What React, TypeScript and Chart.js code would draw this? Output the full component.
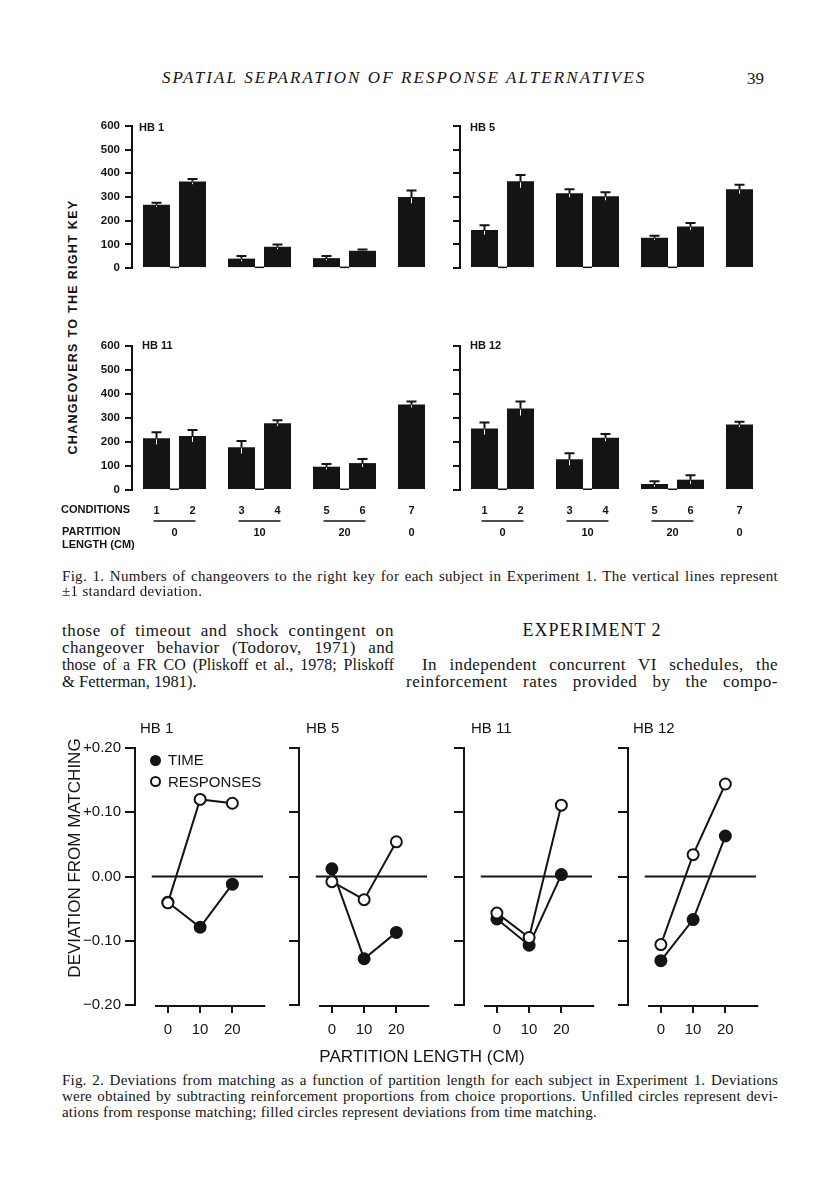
import React, { useEffect, useRef } from "react";
import { Chart, registerables } from "chart.js";

Chart.register(...registerables);

const SANS = '"Liberation Sans", Arial, Helvetica, sans-serif';
const SERIF = '"Liberation Serif", "Times New Roman", serif';
const INK = "#141414";

Chart.defaults.font.family = SANS;
Chart.defaults.color = INK;

// ---------- Fig. 1 data ----------
const conditions = ["1", "2", "3", "4", "5", "6", "7"];
const partitionLengths = ["0", "10", "20", "0"];
const barTicks = [0, 100, 200, 300, 400, 500, 600];

const hb1Means = [267, 365, 40, 90, 42, 73, 300];
const hb1Sd = [9, 11, 11, 10, 9, 5, 27];
const hb5Means = [161, 366, 316, 303, 128, 176, 333];
const hb5Sd = [20, 27, 17, 17, 9, 14, 19];
const hb11Means = [215, 225, 178, 278, 97, 112, 356];
const hb11Sd = [25, 25, 26, 12, 11, 17, 12];
const hb12Means = [256, 339, 128, 218, 25, 43, 273];
const hb12Sd = [25, 29, 25, 15, 11, 18, 11];

// ---------- Fig. 2 data ----------
const partitionCm = [0, 10, 20];
const deviationTicks = [0.2, 0.1, 0, -0.1, -0.2];

const hb1Time = [-0.04, -0.079, -0.012];
const hb1Resp = [-0.041, 0.12, 0.114];
const hb5Time = [0.012, -0.128, -0.087];
const hb5Resp = [-0.008, -0.036, 0.054];
const hb11Time = [-0.066, -0.107, 0.003];
const hb11Resp = [-0.057, -0.095, 0.111];
const hb12Time = [-0.131, -0.067, 0.063];
const hb12Resp = [-0.106, 0.034, 0.144];

// ---------- plugins ----------
const errorBarPlugin = {
  id: "errorBars",
  afterDatasetsDraw(chart: any) {
    const { ctx } = chart;
    const y = chart.scales.y;
    chart.data.datasets.forEach((ds: any, di: number) => {
      const meta = chart.getDatasetMeta(di);
      meta.data.forEach((bar: any, i: number) => {
        const v = ds.data[i];
        if (v == null) return;
        const s = ds.sd[i];
        const yTop = y.getPixelForValue(v);
        const yHi = y.getPixelForValue(v + s);
        const yLo = y.getPixelForValue(v - s);
        ctx.save();
        ctx.strokeStyle = INK;
        ctx.lineWidth = 2;
        ctx.beginPath();
        ctx.moveTo(bar.x, yTop);
        ctx.lineTo(bar.x, yHi);
        ctx.moveTo(bar.x - 5, yHi);
        ctx.lineTo(bar.x + 5, yHi);
        ctx.stroke();
        ctx.strokeStyle = "#ffffff";
        ctx.lineWidth = 1;
        ctx.beginPath();
        ctx.moveTo(bar.x, yTop + 1);
        ctx.lineTo(bar.x, yLo);
        ctx.stroke();
        ctx.restore();
      });
    });
  },
};

const pairPlugin = {
  id: "pairs",
  afterDatasetsDraw(chart: any, _args: any, opts: any) {
    const { ctx } = chart;
    const y0 = chart.scales.y.getPixelForValue(0);
    const a = chart.getDatasetMeta(0).data;
    const b = chart.getDatasetMeta(1).data;
    const second = chart.data.datasets[1].data;
    ctx.save();
    ctx.strokeStyle = INK;
    ctx.lineWidth = 1.5;
    for (let i = 0; i < a.length; i++) {
      if (second[i] == null) continue;
      ctx.beginPath();
      ctx.moveTo(a[i].x + a[i].width / 2, y0 - 0.75);
      ctx.lineTo(b[i].x - b[i].width / 2, y0 - 0.75);
      ctx.stroke();
    }
    if (opts && opts.show) {
      ctx.font = `bold 11px ${SANS}`;
      ctx.fillStyle = INK;
      ctx.textAlign = "center";
      ctx.textBaseline = "middle";
      const condY = y0 + 21;
      const lineY = y0 + 31;
      const partY = y0 + 43;
      let c = 0;
      for (let i = 0; i < a.length; i++) {
        ctx.fillText(conditions[c++], a[i].x, condY);
        if (second[i] != null) {
          ctx.fillText(conditions[c++], b[i].x, condY);
          ctx.lineWidth = 1.5;
          ctx.beginPath();
          ctx.moveTo(a[i].x - 3, lineY);
          ctx.lineTo(b[i].x + 3, lineY);
          ctx.stroke();
          ctx.fillText(partitionLengths[i], (a[i].x + b[i].x) / 2, partY);
        } else {
          ctx.fillText(partitionLengths[i], a[i].x, partY);
        }
      }
    }
    ctx.restore();
  },
};

const zeroLinePlugin = {
  id: "zeroLine",
  beforeDatasetsDraw(chart: any) {
    const { ctx } = chart;
    const { x, y } = chart.scales;
    ctx.save();
    ctx.strokeStyle = INK;
    ctx.lineWidth = 2;
    ctx.beginPath();
    ctx.moveTo(x.getPixelForValue(-5), y.getPixelForValue(0));
    ctx.lineTo(x.getPixelForValue(29.5), y.getPixelForValue(0));
    ctx.stroke();
    ctx.restore();
  },
  afterDraw(chart: any) {
    const { ctx } = chart;
    const { x } = chart.scales;
    const yb = chart.chartArea.bottom + 1;
    ctx.save();
    ctx.strokeStyle = INK;
    ctx.lineWidth = 2;
    ctx.beginPath();
    ctx.moveTo(x.getPixelForValue(-4), yb);
    ctx.lineTo(x.getPixelForValue(30.2), yb);
    ctx.stroke();
    ctx.restore();
  },
};

// ---------- components ----------
function BarPanel(props: {
  means: number[];
  sds: number[];
  showLabels: boolean;
  showConditions: boolean;
  axisX: number;
  topY: number;
}) {
  const ref = useRef<HTMLCanvasElement>(null);
  const bottomPad = props.showConditions ? 62 : 10;
  const width = 40 + 340;
  const height = 10 + 146 + bottomPad;
  useEffect(() => {
    const m = props.means;
    const s = props.sds;
    const firsts = [m[0], m[2], m[4], m[6]];
    const seconds = [m[1], m[3], m[5], null];
    const firstSd = [s[0], s[2], s[4], s[6]];
    const secondSd = [s[1], s[3], s[5], 0];
    const common = {
      backgroundColor: INK,
      borderWidth: 0,
      categoryPercentage: 0.847,
      barPercentage: 0.75,
    };
    const chart = new Chart(ref.current as HTMLCanvasElement, {
      type: "bar",
      data: {
        labels: ["1-2", "3-4", "5-6", "7"],
        datasets: [
          { ...common, data: firsts, sd: firstSd } as any,
          { ...common, data: seconds, sd: secondSd } as any,
        ],
      },
      options: {
        animation: false,
        responsive: false,
        maintainAspectRatio: false,
        layout: { padding: { top: 10, bottom: bottomPad, left: 0, right: 0 } },
        plugins: {
          legend: { display: false },
          tooltip: { enabled: false },
          pairs: { show: props.showConditions },
        } as any,
        scales: {
          x: { display: false },
          y: {
            min: 0,
            max: 600,
            afterBuildTicks: (sc: any) => {
              sc.ticks = barTicks.map((v) => ({ value: v }));
            },
            afterFit: (sc: any) => {
              sc.width = 40;
            },
            ticks: {
              padding: 5,
              color: INK,
              font: { family: SANS, size: 11.5, weight: "bold" },
              callback: (v: any) => (props.showLabels ? String(v) : ""),
            },
            grid: {
              drawOnChartArea: false,
              drawTicks: true,
              tickLength: 7,
              lineWidth: 2,
              color: INK,
            },
            border: { display: true, width: 2, color: INK },
          },
        },
      },
      plugins: [errorBarPlugin, pairPlugin],
    });
    return () => chart.destroy();
  }, []);
  return (
    <canvas
      ref={ref}
      width={width}
      height={height}
      style={{ position: "absolute", left: props.axisX - 40, top: props.topY - 10, width, height }}
    />
  );
}

function fmtDev(v: number) {
  if (Math.abs(v) < 1e-9) return "0.00";
  return (v > 0 ? "+" : "\u2212") + Math.abs(v).toFixed(2);
}

function LinePanel(props: { time: number[]; resp: number[]; showLabels: boolean; axisX: number }) {
  const ref = useRef<HTMLCanvasElement>(null);
  const width = 55 + 137 + 3;
  const height = 10 + 260 + 40 + 5;
  useEffect(() => {
    const pts = (arr: number[]) => partitionCm.map((x, i) => ({ x, y: arr[i] }));
    const chart = new Chart(ref.current as HTMLCanvasElement, {
      type: "line",
      data: {
        datasets: [
          {
            label: "RESPONSES",
            data: pts(props.resp),
            borderColor: INK,
            borderWidth: 2,
            pointRadius: 5.5,
            pointBorderWidth: 2,
            pointBackgroundColor: "#ffffff",
            pointBorderColor: INK,
            tension: 0,
          },
          {
            label: "TIME",
            data: pts(props.time),
            borderColor: INK,
            borderWidth: 2,
            pointRadius: 5.5,
            pointBorderWidth: 2,
            pointBackgroundColor: INK,
            pointBorderColor: INK,
            tension: 0,
          },
        ],
      },
      options: {
        animation: false,
        responsive: false,
        maintainAspectRatio: false,
        layout: { padding: { top: 10, bottom: 5, left: 0, right: 3 } },
        plugins: { legend: { display: false }, tooltip: { enabled: false } },
        scales: {
          x: {
            type: "linear",
            min: -10.2,
            max: 30.9,
            afterBuildTicks: (sc: any) => {
              sc.ticks = partitionCm.map((v) => ({ value: v }));
            },
            afterFit: (sc: any) => {
              sc.height = 40;
            },
            ticks: {
              padding: 8,
              color: INK,
              font: { family: SANS, size: 15 },
              callback: (v: any) => String(v),
            },
            grid: { drawOnChartArea: false, drawTicks: true, tickLength: 8, lineWidth: 2, color: INK },
            border: { display: false },
          },
          y: {
            min: -0.2,
            max: 0.2,
            afterBuildTicks: (sc: any) => {
              sc.ticks = deviationTicks.map((v) => ({ value: v }));
            },
            afterFit: (sc: any) => {
              sc.width = 55;
            },
            ticks: {
              padding: 4,
              color: INK,
              font: { family: SANS, size: 15 },
              callback: (v: any) => (props.showLabels ? fmtDev(Number(v)) : ""),
            },
            grid: { drawOnChartArea: false, drawTicks: true, tickLength: 10, lineWidth: 2, color: INK },
            border: { display: true, width: 2, color: INK },
          },
        },
      },
      plugins: [zeroLinePlugin],
    });
    return () => chart.destroy();
  }, []);
  return (
    <canvas
      ref={ref}
      width={width}
      height={height}
      style={{ position: "absolute", left: props.axisX - 55, top: 735, width, height }}
    />
  );
}

function Txt(props: {
  x: number;
  y: number;
  size: number;
  children: React.ReactNode;
  family?: string;
  weight?: any;
  italic?: boolean;
  width?: number;
  align?: "left" | "center" | "right" | "justify";
  ls?: number;
}) {
  const lh = props.size * 1.2;
  const justify = props.align === "justify";
  return (
    <div
      style={{
        position: "absolute",
        left: props.x,
        top: props.y - lh / 2,
        width: props.width,
        fontSize: props.size,
        lineHeight: `${lh}px`,
        fontFamily: props.family || SANS,
        fontWeight: props.weight || "normal",
        fontStyle: props.italic ? "italic" : "normal",
        letterSpacing: props.ls ? `${props.ls}px` : undefined,
        textAlign: justify ? "justify" : props.align || "left",
        textAlignLast: justify ? "justify" : undefined,
        whiteSpace: "nowrap",
        color: INK,
      } as any}
    >
      {props.children}
    </div>
  );
}

function Circle(props: { cx: number; cy: number; filled: boolean }) {
  return (
    <div
      style={{
        position: "absolute",
        left: props.cx - 5.5,
        top: props.cy - 5.5,
        width: 11,
        height: 11,
        boxSizing: "border-box",
        borderRadius: "50%",
        border: `2px solid ${INK}`,
        background: props.filled ? INK : "#fff",
      }}
    />
  );
}

export default function App() {
  const lineAxes = [135, 299, 463.5, 628];
  return (
    <div style={{ position: "absolute", left: 0, top: 0, width: 816, height: 1200, background: "#fff", overflow: "hidden" }}>
      {/* running head */}
      <Txt x={162} y={78} size={17} family={SERIF} italic ls={2.1}>
        SPATIAL SEPARATION OF RESPONSE ALTERNATIVES
      </Txt>
      <Txt x={747} y={79} size={17} family={SERIF}>
        39
      </Txt>

      {/* Fig. 1 */}
      <BarPanel means={hb1Means} sds={hb1Sd} showLabels showConditions={false} axisX={132} topY={124} />
      <BarPanel means={hb5Means} sds={hb5Sd} showLabels={false} showConditions={false} axisX={460} topY={124} />
      <BarPanel means={hb11Means} sds={hb11Sd} showLabels showConditions axisX={132} topY={344} />
      <BarPanel means={hb12Means} sds={hb12Sd} showLabels={false} showConditions axisX={460} topY={344} />
      <Txt x={139} y={128} size={11} weight="bold">HB 1</Txt>
      <Txt x={470} y={128} size={11} weight="bold">HB 5</Txt>
      <Txt x={142} y={346} size={11} weight="bold">HB 11</Txt>
      <Txt x={470} y={346} size={11} weight="bold">HB 12</Txt>
      <div
        style={{
          position: "absolute",
          left: 73 - 150,
          top: 327 - 8,
          width: 300,
          height: 16,
          lineHeight: "16px",
          textAlign: "center",
          transform: "rotate(-90deg)",
          fontFamily: SANS,
          fontWeight: "bold",
          fontSize: 12.5,
          letterSpacing: "1.3px",
          color: INK,
          whiteSpace: "nowrap",
        }}
      >
        CHANGEOVERS TO THE RIGHT KEY
      </div>
      <Txt x={61} y={510} size={11} weight="bold">CONDITIONS</Txt>
      <Txt x={62} y={532} size={11} weight="bold">PARTITION</Txt>
      <Txt x={62} y={545} size={11} weight="bold">LENGTH (CM)</Txt>

      <Txt x={62} y={576} size={15} family={SERIF} width={716} align="justify" ls={0.3}>
        Fig. 1. Numbers of changeovers to the right key for each subject in Experiment 1. The vertical lines represent
      </Txt>
      <Txt x={62} y={591} size={15} family={SERIF} ls={0.3}>
        ±1 standard deviation.
      </Txt>

      {/* body text */}
      <Txt x={62} y={631} size={17} family={SERIF} width={332} align="justify" ls={0.6}>
        those of timeout and shock contingent on
      </Txt>
      <Txt x={62} y={648} size={17} family={SERIF} width={332} align="justify" ls={0.4}>
        changeover behavior (Todorov, 1971) and
      </Txt>
      <Txt x={62} y={665} size={16} family={SERIF} width={332} align="justify">
        those of a FR CO (Pliskoff et al., 1978; Pliskoff
      </Txt>
      <Txt x={62} y={682} size={16.5} family={SERIF}>
        &amp; Fetterman, 1981).
      </Txt>
      <Txt x={406} y={631} size={18} family={SERIF} width={372} align="center" ls={1}>
        EXPERIMENT 2
      </Txt>
      <Txt x={422} y={665} size={17} family={SERIF} width={356} align="justify" ls={0.4}>
        In independent concurrent VI schedules, the
      </Txt>
      <Txt x={406} y={682} size={17} family={SERIF} width={372} align="justify" ls={0.5}>
        reinforcement rates provided by the compo-
      </Txt>

      {/* Fig. 2 */}
      <LinePanel time={hb1Time} resp={hb1Resp} showLabels axisX={lineAxes[0]} />
      <LinePanel time={hb5Time} resp={hb5Resp} showLabels={false} axisX={lineAxes[1]} />
      <LinePanel time={hb11Time} resp={hb11Resp} showLabels={false} axisX={lineAxes[2]} />
      <LinePanel time={hb12Time} resp={hb12Resp} showLabels={false} axisX={lineAxes[3]} />
      <Txt x={140} y={728} size={15}>HB 1</Txt>
      <Txt x={306} y={728} size={15}>HB 5</Txt>
      <Txt x={471} y={728} size={15}>HB 11</Txt>
      <Txt x={633} y={728} size={15}>HB 12</Txt>
      <Circle cx={155} cy={760} filled />
      <Txt x={168} y={760} size={15}>TIME</Txt>
      <Circle cx={155} cy={781.5} filled={false} />
      <Txt x={168} y={781.5} size={15}>RESPONSES</Txt>
      <div
        style={{
          position: "absolute",
          left: 75 - 150,
          top: 858 - 10,
          width: 300,
          height: 20,
          lineHeight: "20px",
          textAlign: "center",
          transform: "rotate(-90deg)",
          fontFamily: SANS,
          fontSize: 17,
          color: INK,
          whiteSpace: "nowrap",
        }}
      >
        DEVIATION FROM MATCHING
      </div>
      <Txt x={272} y={1057} size={17} width={300} align="center">
        PARTITION LENGTH (CM)
      </Txt>

      <Txt x={62} y={1080} size={15} family={SERIF} width={716} align="justify" ls={0.2}>
        Fig. 2. Deviations from matching as a function of partition length for each subject in Experiment 1. Deviations
      </Txt>
      <Txt x={62} y={1096} size={15} family={SERIF} width={716} align="justify" ls={0.2}>
        were obtained by subtracting reinforcement proportions from choice proportions. Unfilled circles represent devi-
      </Txt>
      <Txt x={62} y={1112} size={15} family={SERIF} ls={0.2}>
        ations from response matching; filled circles represent deviations from time matching.
      </Txt>
    </div>
  );
}
